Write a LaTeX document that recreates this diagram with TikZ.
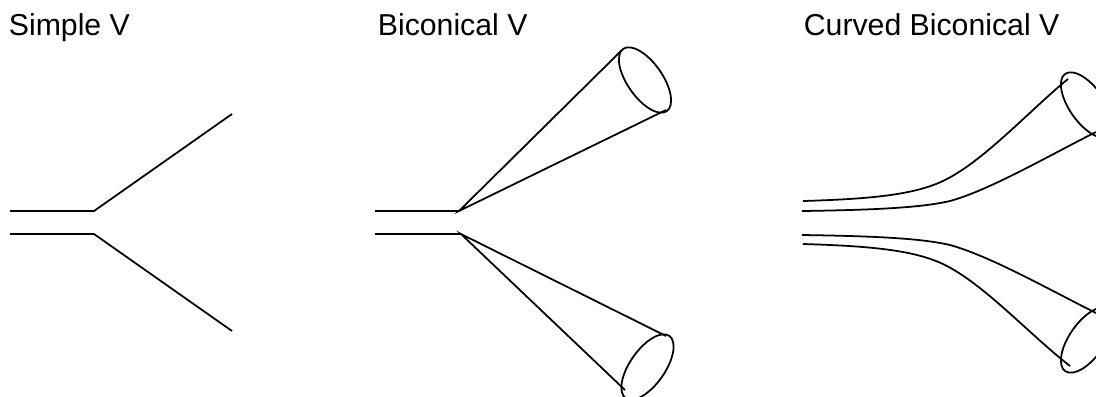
\documentclass[tikz,border=0pt]{standalone}
\usepackage{fontspec}
\setmainfont{Liberation Sans}
\begin{document}
\begin{tikzpicture}[x=0.01cm,y=-0.01cm,line width=0.5pt]
\tikzset{titulo/.style={anchor=base west,inner sep=0pt,font=\fontsize{8.6pt}{10pt}\selectfont}}
\useasboundingbox (0,0) rectangle (1096,396);
\clip (0,0) rectangle (1096,396);
% Titulos
\node[titulo] (simple) at (8,35) {Simple V};
\node[titulo] (bicon) at (377,35) {Biconical V};
\node[titulo] (curvo) at (803,35) {Curved Biconical V};
% Simple V
\draw (10,211) -- (94,211) -- (232,114);
\draw (10,234) -- (94,234) -- (232,331);
% Biconical V
\draw (375,211) -- (459,211);
\draw (375,234) -- (461,234);
\draw (622,50) -- (459,211) -- (666,110);
\draw (666,336) -- (461,234) -- (625,390);
\draw (645,80) ellipse [x radius=0.38cm,y radius=0.175cm,rotate=-55];
\draw (647.5,367) ellipse [x radius=0.38cm,y radius=0.175cm,rotate=55];
% Curved Biconical V
\draw (803,201) .. controls (870,199) and (915,195) .. (945,180) .. controls (985,160) and (1030,110) .. (1068,79);
\draw (802,211) .. controls (870,210) and (920,208) .. (950,201) .. controls (990,190) and (1050,155) .. (1096,132);
\draw (802,235) .. controls (870,236) and (920,238) .. (950,245) .. controls (990,256) and (1050,290) .. (1096,313);
\draw (803,244) .. controls (870,246) and (915,250) .. (945,265) .. controls (985,285) and (1030,335) .. (1070,366);
\draw (1087,105) ellipse [x radius=0.38cm,y radius=0.175cm,rotate=-55];
\draw (1087,340) ellipse [x radius=0.38cm,y radius=0.175cm,rotate=55];
\end{tikzpicture}
\end{document}
